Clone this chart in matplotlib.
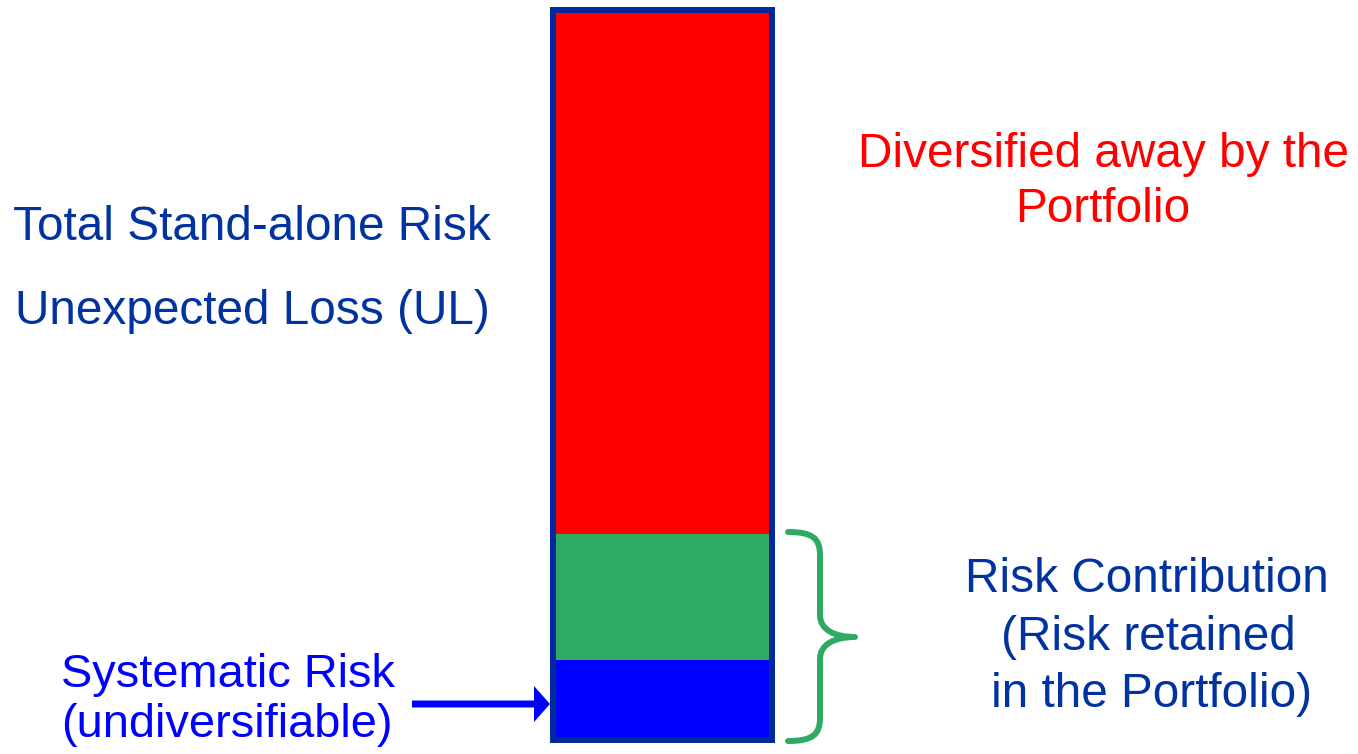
import matplotlib
matplotlib.use("Agg")
import matplotlib.pyplot as plt
from matplotlib.path import Path
from matplotlib.patches import PathPatch, Rectangle

plt.rcParams['font.family'] = ['Liberation Sans', 'DejaVu Sans']

# stacked risk components, bottom to top
segments = ["Systematic", "Contribution", "Diversified"]
values = [80, 126, 524]
colors = ["#0000FF", "#2EAA62", "#FF0000"]

W, H = 1358, 754
fig = plt.figure(figsize=(W / 100, H / 100), dpi=100)
ax = fig.add_axes([0, 0, 1, 1])
ax.set_xlim(0, W)
ax.set_ylim(0, H)
ax.axis("off")

def fy(py):
    # pixel row from top -> data y
    return H - py

# the bar
x0, x1 = 553, 772
base = fy(740)
bottom = base
for v, c in zip(values, colors):
    ax.bar((x0 + x1) / 2, v, width=x1 - x0, bottom=bottom, color=c, linewidth=0)
    bottom += v
ax.add_patch(Rectangle((x0, base), x1 - x0, sum(values), fill=False,
                       edgecolor="#00299E", linewidth=4.3, joinstyle="miter"))

# curly brace next to green + blue
bx, sx, tx = 788, 820, 855
top, mid, bot = 532, 637, 741
verts = [(bx, top), (812, top), (sx, top + 6), (sx, top + 23),
         (sx, mid - 22),
         (sx, mid - 7), (835, mid), (tx, mid),
         (835, mid), (sx, mid + 7), (sx, mid + 22),
         (sx, bot - 23),
         (sx, bot - 6), (812, bot), (bx, bot)]
codes = [Path.MOVETO, Path.CURVE4, Path.CURVE4, Path.CURVE4,
         Path.LINETO,
         Path.CURVE4, Path.CURVE4, Path.CURVE4,
         Path.CURVE4, Path.CURVE4, Path.CURVE4,
         Path.LINETO,
         Path.CURVE4, Path.CURVE4, Path.CURVE4]
verts = [(x, fy(y)) for x, y in verts]
ax.add_patch(PathPatch(Path(verts, codes), fill=False, edgecolor="#2EAA62",
                       linewidth=4.3, capstyle="round", joinstyle="round"))

# arrow to systematic part
ax.arrow(412, fy(704), 550 - 412, 0, width=7, head_width=36, head_length=16,
         length_includes_head=True, color="#0000FF", linewidth=0)

dark = "#0033A0"
fs = 34.4
ax.text(13, fy(240), "Total Stand-alone Risk", color=dark, fontsize=fs, va="baseline")
ax.text(15, fy(324), "Unexpected Loss (UL)", color=dark, fontsize=fs, va="baseline")
ax.text(1103, fy(167), "Diversified away by the", color="#FF0000", fontsize=fs,
        va="baseline", ha="center")
ax.text(1103, fy(222), "Portfolio", color="#FF0000", fontsize=fs,
        va="baseline", ha="center")
ax.text(1147, fy(592), "Risk Contribution", color=dark, fontsize=fs, va="baseline", ha="center")
ax.text(1148, fy(650), "(Risk retained", color=dark, fontsize=fs, va="baseline", ha="center")
ax.text(1152, fy(707), "in the Portfolio)", color=dark, fontsize=fs, va="baseline", ha="center")
fs3 = 33.8
ax.text(228, fy(687), "Systematic Risk", color="#0000FF", fontsize=fs3, va="baseline", ha="center")
ax.text(227, fy(737), "(undiversifiable)", color="#0000FF", fontsize=fs3, va="baseline", ha="center")

fig.savefig("out.png", dpi=100)
